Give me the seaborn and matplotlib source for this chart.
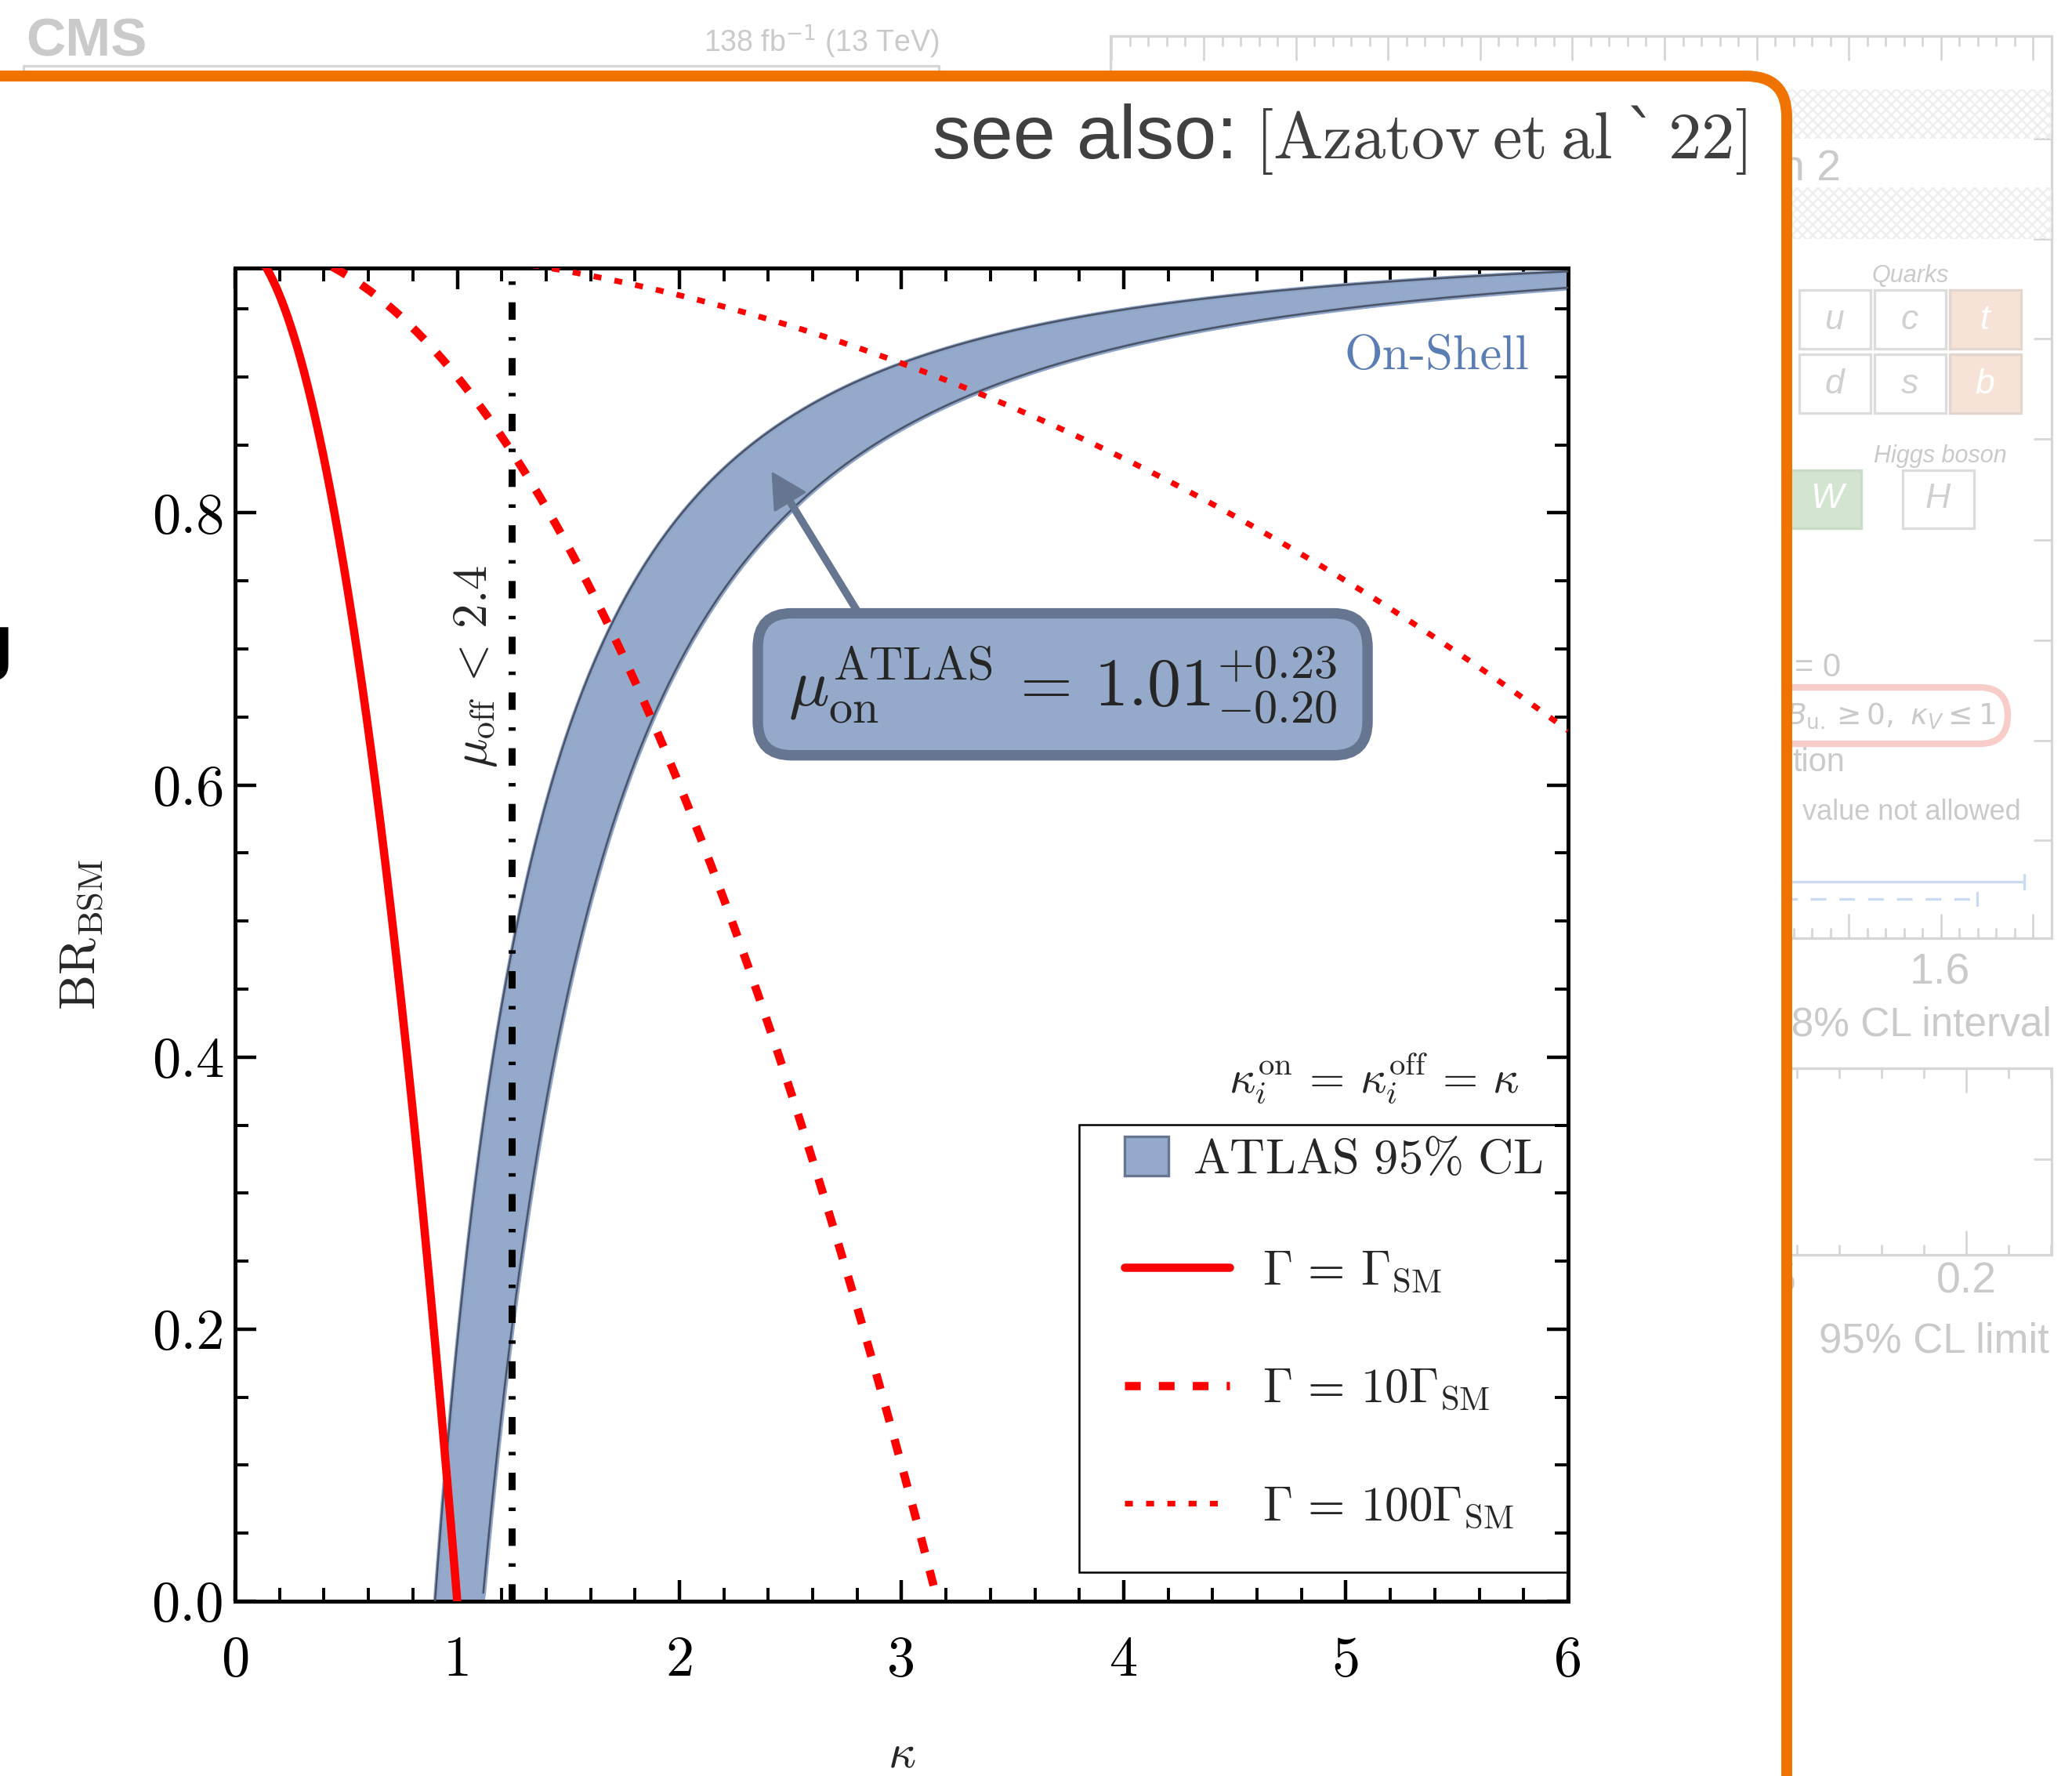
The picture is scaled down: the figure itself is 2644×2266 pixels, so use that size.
import numpy as np
import pandas as pd
import matplotlib
matplotlib.use("Agg")
import matplotlib.pyplot as plt
import seaborn as sns
from matplotlib.patches import FancyBboxPatch, Rectangle, Patch
from matplotlib.lines import Line2D
from matplotlib.ticker import MultipleLocator, FormatStrFormatter

# ---------------------------------------------------------------- inputs
# ATLAS on-shell signal strength with its 95% CL errors
mu_on_central = 1.01
mu_on_err_up = 0.23
mu_on_err_down = 0.20
# total-width hypotheses, Gamma / Gamma_SM
width_ratios = [1, 10, 100]
width_labels = [r"$\Gamma \,=\, \Gamma_{\rm SM}$",
                r"$\Gamma \,=\, 10\Gamma_{\rm SM}$",
                r"$\Gamma \,=\, 100\Gamma_{\rm SM}$"]
# off-shell bound on mu_off = kappa^4
mu_off_limit = 2.4
x_ticks = [0, 1, 2, 3, 4, 5, 6]
y_ticks = [0.0, 0.2, 0.4, 0.6, 0.8]
kappa_lim = (0.0, 6.0)
br_lim = (0.0, 0.98)

# ---------------------------------------------------------------- style
sns.set_theme(style="ticks")
plt.rcParams["font.family"] = ["DejaVu Sans"]
plt.rcParams["mathtext.fontset"] = "cm"
plt.rcParams["axes.formatter.use_mathtext"] = True

BAND_FILL = "#95aacb"
BAND_EDGE = "#4b5366"
BOX_EDGE = "#667590"
ORANGE = "#f07300"
FADE = "#cacaca"
FRAME = "#d6d6d6"

fig = plt.figure(figsize=(13.22, 11.33), dpi=200)

# ------------------------------------------------ slide backdrop (pixel coords)
bg = fig.add_axes([0, 0, 1, 1], zorder=0)
bg.set_xlim(0, 2644)
bg.set_ylim(2266, 0)
bg.axis("off")

# faded left panel header
bg.plot([30, 1198], [84, 84], color=FRAME, lw=1.2, zorder=1)
bg.plot([30, 30], [84, 120], color=FRAME, lw=1.2, zorder=1)
bg.plot([1198, 1198], [84, 120], color=FRAME, lw=1.2, zorder=1)
bg.text(33, 71, "CMS", fontsize=25, fontweight="bold", color=FADE,
        family="Liberation Sans", va="baseline", zorder=1)
bg.text(1198, 66, r"138 fb$^{-1}$ (13 TeV)", fontsize=13.5, color=FADE,
        family="Liberation Sans", math_fontfamily="dejavusans",
        ha="right", va="baseline", zorder=1)

# faded right panel
bg.add_patch(Rectangle((1417, 46), 1201, 1151, fill=False, ec=FRAME, lw=1.2, zorder=1))
for j in range(52):
    x = 1418.4 + j * 23.52
    if x > 2617:
        break
    ln = 30 if j % 5 == 0 else 12
    bg.plot([x, x], [46, 46 + ln], color=FRAME, lw=1.0, zorder=1)
    bg.plot([x, x], [1197, 1197 - ln], color=FRAME, lw=1.0, zorder=1)
for y in [177, 305, 432, 560, 689, 817, 945, 1072]:
    bg.plot([2596, 2618], [y, y], color=FRAME, lw=1.0, zorder=1)
for y0, h in [(114, 63), (239, 66)]:
    bg.add_patch(Rectangle((1417, y0), 1201, h, fill=False, hatch="xxxxx",
                           ec="#efefef", lw=0, zorder=1))
bg.text(2272, 230, "n 2", fontsize=20, color=FADE, family="Liberation Sans",
        ha="left", va="baseline", zorder=1)

bg.text(2438, 360, "Quarks", fontsize=11, style="italic", color=FADE,
        family="Liberation Sans", ha="center", va="baseline", zorder=1)
quark_rows = [["u", "c", "t"], ["d", "s", "b"]]
for r, row in enumerate(quark_rows):
    for c, q in enumerate(row):
        x0, y0 = 2296 + 96 * c, 370 + 82 * r
        heavy = q in ("t", "b")
        bg.add_patch(Rectangle((x0, y0), 91, 75, fc="#f6e2d6" if heavy else "white",
                               ec="#e2d6cf" if heavy else "#dcdcdc", lw=1.2, zorder=1))
        bg.text(x0 + 45, y0 + 38, q, fontsize=16, style="italic",
                color="white" if heavy else "#d0d0d0", family="Liberation Sans",
                ha="center", va="center", zorder=1)
bg.text(2476, 590, "Higgs boson", fontsize=11, style="italic", color=FADE,
        family="Liberation Sans", ha="center", va="baseline", zorder=1)
bg.add_patch(Rectangle((2200, 600), 175, 74, fc="#d3e4d1", ec="#c9dcc7", lw=1.2, zorder=1))
bg.text(2331, 637, "W", fontsize=16, style="italic", color="white",
        family="Liberation Sans", ha="center", va="center", zorder=1)
bg.add_patch(Rectangle((2428, 600), 91, 74, fc="white", ec="#dcdcdc", lw=1.2, zorder=1))
bg.text(2473, 637, "H", fontsize=16, style="italic", color="#d0d0d0",
        family="Liberation Sans", ha="center", va="center", zorder=1)

bg.text(2290, 863, "= 0", fontsize=15, color=FADE, family="Liberation Sans",
        va="baseline", zorder=1)
bg.add_patch(FancyBboxPatch((2150, 877), 412, 72, boxstyle="round,pad=0,rounding_size=36",
                            fc="none", ec="#f8cdc9", lw=3, zorder=1))
bg.text(2279, 913, r"$B_{\rm u.} \geq 0,\ \kappa_V \leq 1$", fontsize=13.5, color=FADE,
        math_fontfamily="dejavusans", va="center", zorder=1)
bg.text(2287, 984, "tion", fontsize=15, color=FADE, family="Liberation Sans",
        va="baseline", zorder=1)
bg.text(2300, 1046, "value not allowed", fontsize=13, color=FADE,
        family="Liberation Sans", va="baseline", zorder=1)
bg.plot([2200, 2583], [1125, 1125], color="#c9dbf2", lw=1.2, zorder=1)
bg.plot([2583, 2583], [1116, 1134], color="#c9dbf2", lw=1.2, zorder=1)
bg.plot([2200, 2523], [1147, 1147], color="#c9dbf2", lw=1.2, ls=(0, (6, 5)), zorder=1)
bg.plot([2523, 2523], [1139, 1155], color="#c9dbf2", lw=1.2, zorder=1)
bg.text(2475, 1255, "1.6", fontsize=20, color=FADE, family="Liberation Sans",
        ha="center", va="baseline", zorder=1)
bg.text(2618, 1322, "68% CL interval", fontsize=18.5, color=FADE, family="Liberation Sans",
        ha="right", va="baseline", zorder=1)

bg.add_patch(Rectangle((1417, 1363), 1201, 238, fill=False, ec=FRAME, lw=1.2, zorder=1))
for j in range(-25, 3):
    x = 2509 + 54 * j
    if x > 2617:
        break
    ln = 30 if j % 5 == 0 else 12
    bg.plot([x, x], [1363, 1363 + ln], color=FRAME, lw=1.0, zorder=1)
    bg.plot([x, x], [1601, 1601 - ln], color=FRAME, lw=1.0, zorder=1)
bg.plot([2596, 2618], [1479, 1479], color=FRAME, lw=1.0, zorder=1)
bg.text(2239, 1650, "0.15", fontsize=20, color=FADE, family="Liberation Sans",
        ha="center", va="baseline", zorder=1)
bg.text(2509, 1650, "0.2", fontsize=20, color=FADE, family="Liberation Sans",
        ha="center", va="baseline", zorder=1)
bg.text(2615, 1725, "95% CL limit", fontsize=19, color=FADE, family="Liberation Sans",
        ha="right", va="baseline", zorder=1)

# highlighted slide box
bg.add_patch(FancyBboxPatch((-300, 97), 2580, 2600, boxstyle="round,pad=0,rounding_size=52",
                            fc="white", ec=ORANGE, lw=5, zorder=5))
bg.text(-40, 850, "g", fontsize=33, fontweight="bold", color="black",
        family="Liberation Sans", va="baseline", zorder=6)
bg.text(1190, 202, "see also:", fontsize=35, color="#404040",
        family="Liberation Sans", va="baseline", zorder=6)
bg.text(2229, 202, r"$\mathrm{[Azatov\:et\:al\:}$`$\mathrm{\,22]}$", fontsize=30.5,
        color="#404040", family="DejaVu Serif", ha="right", va="baseline", zorder=6)

# ---------------------------------------------------------------- main plot
ax = fig.add_axes([300 / 2644, 223 / 2266, 1701 / 2644, 1701 / 2266], zorder=2)
ax.set_facecolor("white")

mu_hi = mu_on_central + mu_on_err_up
mu_lo = mu_on_central - mu_on_err_down

# on-shell band: mu_on = kappa^2 (1 - BR_BSM)
kap = np.linspace(np.sqrt(mu_lo), kappa_lim[1], 800)
band_top = 1.0 - mu_lo / kap**2
band_bot = np.clip(1.0 - mu_hi / kap**2, 0.0, None)
ax.fill_between(kap, band_bot, band_top, facecolor=BAND_FILL, edgecolor="#8ea4c8",
                lw=2.2, zorder=2)
ax.plot(kap, band_top, color=BAND_EDGE, lw=0.9, zorder=3)
kap_b = kap[kap >= np.sqrt(mu_hi)]
ax.plot(kap_b, 1.0 - mu_hi / kap_b**2, color=BAND_EDGE, lw=0.9, zorder=3)

# fixed total width: Gamma/Gamma_SM = kappa^2 / (1 - BR_BSM)
line_styles = ["-", (0, (1.9, 2.2)), (0, (1.4, 2.35))]
line_widths = [3.8, 3.8, 2.6]
handles = []
for r, ls, lw, lab in zip(width_ratios, line_styles, line_widths, width_labels):
    k = np.linspace(kappa_lim[0], min(kappa_lim[1], np.sqrt(r)), 600)
    df = pd.DataFrame({"kappa": k, "br": 1.0 - k**2 / r})
    sns.lineplot(data=df, x="kappa", y="br", ax=ax, color="red", lw=lw,
                 linestyle=ls, legend=False, zorder=4)
    handles.append(Line2D([], [], color="red", lw=lw, linestyle=ls))

# off-shell bound
kappa_off = mu_off_limit ** 0.25
ax.axvline(kappa_off, color="black", lw=3.2, linestyle=(0, (2.5, 2.5, 0.5, 2.5)), zorder=4)
ax.text(1.083, 0.687, rf"$\mu_{{\rm off}} \,<\, {mu_off_limit}$", rotation=90,
        fontsize=22.5, ha="center", va="center", zorder=5)

ax.text(5.823, 0.915, "On-Shell", fontsize=22.5, color="#5a7db5", family="cmr10",
        ha="right", va="center", zorder=5)

ax.annotate("", xy=(2.42, 0.829), xytext=(2.826, 0.721),
            arrowprops=dict(facecolor=BOX_EDGE, edgecolor=BOX_EDGE, width=2.5,
                            headwidth=16, headlength=15, shrink=0), zorder=5)
ax.text(3.725, 0.674,
        rf"$\mu_{{\rm on}}^{{\rm ATLAS}} \,=\, {mu_on_central:.2f}"
        rf"^{{+{mu_on_err_up:.2f}}}_{{-{mu_on_err_down:.2f}}}$",
        fontsize=31, ha="center", va="center", zorder=6,
        bbox=dict(boxstyle="round,pad=0.45,rounding_size=0.5", fc=BAND_FILL,
                  ec=BOX_EDGE, lw=4.8))

ax.text(5.78, 0.384, r"$\kappa_i^{\rm on} \,=\, \kappa_i^{\rm off} \,=\, \kappa$",
        fontsize=21, ha="right", va="center", zorder=5)

# legend
ax.add_patch(Rectangle((0.633, 0.0218), 0.367, 0.3356, transform=ax.transAxes,
                       fill=False, ec="black", lw=0.9, zorder=6))
leg_band = ax.legend(handles=[Patch(facecolor=BAND_FILL, edgecolor=BOX_EDGE, lw=1.2)],
                     labels=[r"$\mathrm{ATLAS\ 95\%\ CL}$"], loc="center left",
                     bbox_to_anchor=(0.667, 0.331), frameon=False, borderpad=0,
                     borderaxespad=0, handlelength=0.9, handleheight=0.85,
                     handletextpad=0.5, fontsize=22.5)
ax.add_artist(leg_band)
ax.legend(handles=handles, labels=width_labels, loc="center left",
          bbox_to_anchor=(0.667, 0.159), frameon=False, borderpad=0, borderaxespad=0,
          handlelength=2.2, handletextpad=0.68, labelspacing=1.5, fontsize=22)

# axes
ax.set_xlim(*kappa_lim)
ax.set_ylim(*br_lim)
ax.set_xticks(x_ticks)
ax.set_yticks(y_ticks)
ax.xaxis.set_major_formatter(FormatStrFormatter("%d"))
ax.yaxis.set_major_formatter(FormatStrFormatter("%.1f"))
ax.xaxis.set_minor_locator(MultipleLocator(0.2))
ax.yaxis.set_minor_locator(MultipleLocator(0.05))
ax.tick_params(which="both", direction="in", top=True, right=True, color="black",
               labelfontfamily="cmr10", labelsize=26, labelcolor="black")
ax.tick_params(which="major", length=9.7, width=1.6)
ax.tick_params(which="minor", length=6, width=1.4)
ax.tick_params(axis="x", which="major", pad=16)
ax.tick_params(axis="y", which="major", pad=5)
for s in ax.spines.values():
    s.set_linewidth(1.8)
    s.set_color("black")
ax.set_xlabel(r"$\kappa$", fontsize=22)
ax.set_ylabel(r"$\mathrm{BR}_{\mathrm{BSM}}$", fontsize=23)
ax.xaxis.set_label_coords(0.5, -0.098)
ax.yaxis.set_label_coords(-0.097, 0.5)

fig.savefig("out.png", dpi=200)
